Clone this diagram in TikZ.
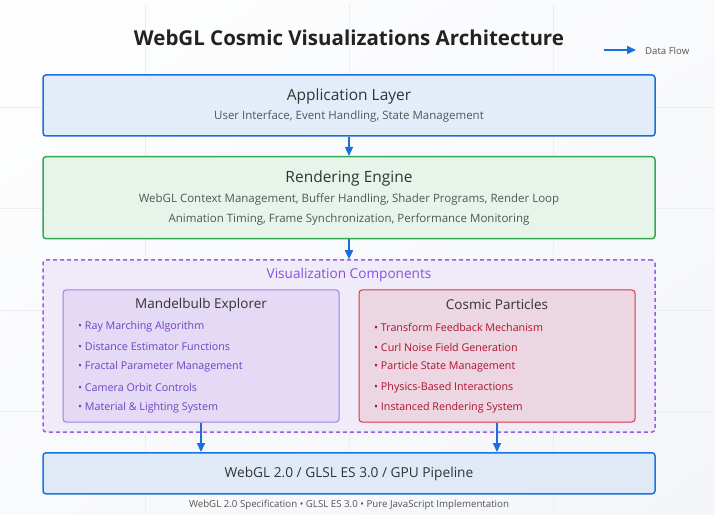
\documentclass[tikz,border=0pt]{standalone}
\usepackage{fontspec}
\setmainfont{Open Sans}
\usetikzlibrary{arrows.meta,shadings}
\definecolor{bgA}{HTML}{FEFEFE}
\definecolor{bgB}{HTML}{F9FAFC}
\definecolor{bgC}{HTML}{F4F5F9}
\definecolor{gridc}{HTML}{ECEEF2}
\definecolor{flowc}{HTML}{1A6FDC}
\definecolor{appfill}{HTML}{E3EDFA}
\definecolor{appdraw}{HTML}{1A6FDC}
\definecolor{renfill}{HTML}{E7F4EA}
\definecolor{rendraw}{HTML}{34A853}
\definecolor{vizfill}{HTML}{F0EBF9}
\definecolor{vizdraw}{HTML}{9B5DE5}
\definecolor{manfill}{HTML}{E4DAF5}
\definecolor{mandraw}{HTML}{A07EE8}
\definecolor{parfill}{HTML}{EBD6E2}
\definecolor{pardraw}{HTML}{DC3545}
\definecolor{gpufill}{HTML}{E0EAF7}
\definecolor{gpudraw}{HTML}{1A73E8}
\definecolor{titlec}{HTML}{222222}
\definecolor{headc}{HTML}{333333}
\definecolor{subc}{HTML}{555555}
\definecolor{vizlabc}{HTML}{8A4FE0}
\definecolor{manitem}{HTML}{6F42C1}
\definecolor{paritem}{HTML}{B0122D}
\begin{document}
\begin{tikzpicture}[x=1pt,y=-1pt,
  layerbox/.style={rectangle,rounded corners=3pt,line width=1.5pt,minimum width=612pt,inner sep=0pt},
  subbox/.style={rectangle,rounded corners=3pt,line width=1pt,minimum width=276pt,minimum height=132pt,inner sep=0pt},
  flow/.style={draw=flowc,line width=1.5pt,-{Triangle[length=9pt,width=8pt]}},
  txt/.style={inner sep=0pt,anchor=center},
  head/.style={txt,text=headc,font=\fontsize{15.5}{18}\selectfont},
  sub/.style={txt,text=subc,font=\fontsize{11.5}{14}\selectfont},
  manit/.style={inner sep=0pt,anchor=west,text=manitem,font=\fontsize{10.7}{12}\selectfont},
  parit/.style={inner sep=0pt,anchor=west,text=paritem,font=\fontsize{10.7}{12}\selectfont},
]
% background
\fill[white] (0,0) rectangle (715,529);
\shade[upper left=bgA,upper right=bgB,lower left=bgB,lower right=bgC] (0,0) rectangle (715,514);
\useasboundingbox (0,0) rectangle (715,529);
\foreach \gx in {145,349,553} \draw[gridc,line width=0.8pt] (\gx,4) -- (\gx,514);
\foreach \gy in {107,208.5,310,411.5} \draw[gridc,line width=0.8pt] (0,\gy) -- (715,\gy);

% title
\node[txt,text=titlec,font=\fontsize{20.5}{24}\bfseries] (title) at (349,38) {WebGL Cosmic Visualizations Architecture};

% legend
\coordinate (legA) at (604,50);
\coordinate (legB) at (636,50);
\draw[flow] (legA) -- (legB);
\node[inner sep=0pt,anchor=west,text=subc,font=\fontsize{9.6}{11}\selectfont] (legtxt) at (645,51) {Data Flow};

% layers
\node[layerbox,fill=appfill,draw=appdraw,minimum height=61pt] (app) at (349,105.5) {};
\node[head] (apphead) at (349,96.7) {Application Layer};
\node[sub] (appsub) at (349,116.7) {User Interface, Event Handling, State Management};

\node[layerbox,fill=renfill,draw=rendraw,minimum height=82pt] (ren) at (349,197.7) {};
\node[head] (renhead) at (349,178) {Rendering Engine};
\node[sub] (rensub1) at (349,199.3) {WebGL Context Management, Buffer Handling, Shader Programs, Render Loop};
\node[sub] (rensub2) at (349,219) {Animation Timing, Frame Synchronization, Performance Monitoring};

\node[layerbox,fill=vizfill,draw=vizdraw,dash pattern=on 4pt off 3pt,minimum height=172pt] (viz) at (349,346) {};
\node[txt,text=vizlabc,font=\fontsize{13.6}{16}\selectfont] (vizlab) at (349,275) {Visualization Components};

\node[subbox,fill=manfill,draw=mandraw] (man) at (201,356) {};
\node[txt,text=headc,font=\fontsize{13.5}{16}\selectfont] (manhead) at (201,304.5) {Mandelbulb Explorer};
\node[manit] (m1) at (78,327) {• Ray Marching Algorithm};
\node[manit] (m2) at (78,347) {• Distance Estimator Functions};
\node[manit] (m3) at (78,367) {• Fractal Parameter Management};
\node[manit] (m4) at (78,387.5) {• Camera Orbit Controls};
\node[manit] (m5) at (78,407.5) {• Material \& Lighting System};

\node[subbox,fill=parfill,draw=pardraw] (par) at (497,356) {};
\node[txt,text=headc,font=\fontsize{13.5}{16}\selectfont] (parhead) at (497,304.5) {Cosmic Particles};
\node[parit] (p1) at (374,327) {• Transform Feedback Mechanism};
\node[parit] (p2) at (374,347) {• Curl Noise Field Generation};
\node[parit] (p3) at (374,367) {• Particle State Management};
\node[parit] (p4) at (374,387.5) {• Physics-Based Interactions};
\node[parit] (p5) at (374,407.5) {• Instanced Rendering System};

\node[layerbox,fill=gpufill,draw=gpudraw,minimum height=41pt] (gpu) at (349,473.3) {};
\node[txt,text=headc,font=\fontsize{13.7}{16}\selectfont] (gputxt) at (349,473.5) {WebGL 2.0 / GLSL ES 3.0 / GPU Pipeline};

\node[txt,text=subc,font=\fontsize{9.7}{11}\selectfont] (foot) at (349,504.5) {WebGL 2.0 Specification • GLSL ES 3.0 • Pure JavaScript Implementation};

% connectors
\draw[flow] (app.south) -- (ren.north);
\draw[flow] (ren.south) -- (viz.north);
\draw[flow] (man.south) -- (man.south |- gpu.north);
\draw[flow] (par.south) -- (par.south |- gpu.north);
\end{tikzpicture}
\end{document}
